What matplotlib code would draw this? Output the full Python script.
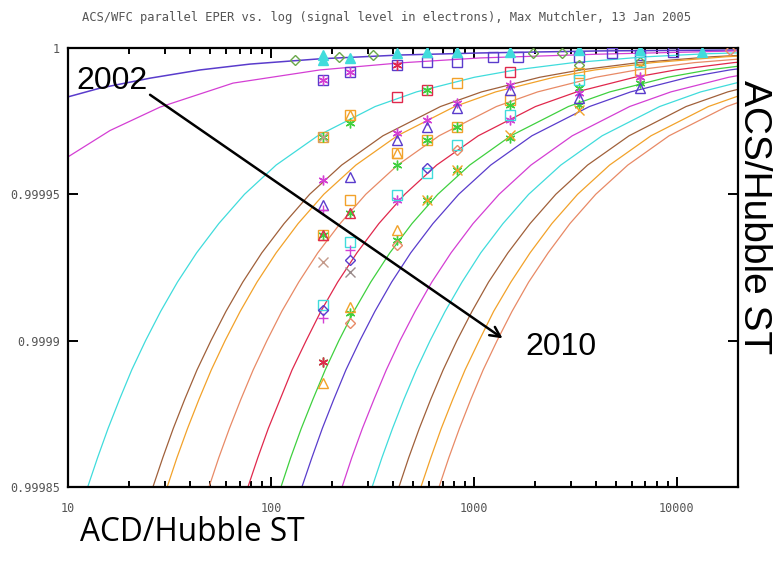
"""ACS/WFC parallel EPER vs. signal level — recreated gnuplot-style chart."""
import matplotlib
matplotlib.use("Agg")
import matplotlib.pyplot as plt
from matplotlib.ticker import LogLocator, NullFormatter, FixedLocator, FixedFormatter

# ── data ─────────────────────────────────────────────────────────────────────
# EPER levels shared by the family of model curves
LEVELS = [0.99985, 0.99986, 0.99987, 0.99988, 0.99989, 0.9999, 0.99991,
          0.99992, 0.99993, 0.99994, 0.99995, 0.99996, 0.99997, 0.99998,
          0.999985, 0.99999, 0.9999925, 0.999995, 0.999997, 0.999998, 0.999999]

# signal level (electrons) at which each curve reaches each level above
CYAN1_X   = [12.5, 13.98, 15.75, 17.95, 20.6, 24.1, 28.6, 34.6, 43.0, 55.3, 74.0,
             106, 170, 326, 521, 1005, 1600, 3090, 7080, 13600, 42300]
BROWN1_X  = [26.2, 29.3, 33.0, 37.6, 43.2, 50.6, 60.0, 72.6, 90.1, 116, 155,
             223, 356, 684, 1090, 2110, 3350, 6470, 14800, 28600, 88600]
ORANGE1_X = [30.8, 34.4, 38.8, 44.2, 50.8, 59.4, 70.5, 85.3, 106, 136, 182,
             262, 419, 804, 1280, 2480, 3940, 7610, 17400, 33600]
SALMON1_X = [49.5, 55.3, 62.4, 71.1, 81.7, 95.5, 113, 137, 170, 219, 293,
             421, 673, 1290, 2060, 3980, 6340, 12200, 28000]
RED_X     = [77, 86.1, 97.0, 111, 127, 149, 176, 213, 265, 340, 456,
             655, 1050, 2010, 3210, 6190, 9860, 19000, 43600]
GREEN_X   = [112, 125, 141, 161, 185, 216, 256, 310, 385, 495, 663,
             953, 1520, 2920, 4670, 9000, 14300, 27700]
BLUE_X    = [142, 159, 179, 204, 234, 274, 325, 393, 488, 628, 841,
             1210, 1930, 3710, 5920, 11400, 18200, 35100]
MAGENTA2_X = [224, 250, 282, 322, 370, 432, 513, 620, 771, 990, 1330,
              1910, 3050, 5850, 9340, 18000, 28700]
CYAN2_X   = [315, 352, 397, 452, 520, 608, 721, 873, 1080, 1390, 1860,
             2680, 4280, 8220, 13100, 25300]
BROWN2_X  = [427, 477, 538, 613, 705, 824, 978, 1180, 1470, 1890, 2530,
             3630, 5810, 11100, 17800, 34300]
ORANGE2_X = [548, 613, 690, 787, 904, 1060, 1250, 1520, 1890, 2420, 3240,
             4660, 7450, 14300, 22900]
SALMON2_X = [673, 752, 848, 966, 1110, 1300, 1540, 1860, 2320, 2970, 3980,
             5730, 9150, 17600, 28100]

# the two top curves
TOP_BLUE_X = [10, 14.4, 25.4, 44.7, 78.8, 174, 431, 1070, 4170, 20000]
TOP_BLUE_Y = [0.9999833, 0.9999863, 0.9999897, 0.9999925, 0.9999945,
              0.9999963, 0.9999976, 0.9999983, 0.999999, 0.9999993]
TOP_MAG_X = [10, 16.1, 28.4, 65, 174, 431, 1070, 4170, 20000]
TOP_MAG_Y = [0.9999628, 0.9999718, 0.9999798, 0.999988, 0.9999925, 0.9999949,
             0.9999966, 0.9999979, 0.999999]

# measured points
sq_purple_x = [180, 245, 420, 586, 824, 1240, 1650, 3300, 4790, 6600, 9550]
sq_purple_y = [0.9999891, 0.9999918, 0.9999942, 0.9999952, 0.9999952, 0.9999969,
               0.9999969, 0.9999969, 0.9999983, 0.9999976, 0.9999986]
tri_cyan_x = [180, 180, 245, 420, 586, 824, 1500, 3300, 6600, 13270]
tri_cyan_y = [0.9999976, 0.9999959, 0.9999966, 0.9999983, 0.9999986, 0.9999986,
              0.9999986, 0.9999993, 0.9999993, 0.9999986]
dia_green_x = [131, 216, 318, 1955, 2715, 3300, 6600]
dia_green_y = [0.9999959, 0.9999969, 0.9999976, 0.9999983, 0.9999983, 0.9999942, 0.9999952]
sq_orange_x = [180, 180, 245, 245, 420, 586, 824, 824, 1500, 3300, 6600]
sq_orange_y = [0.9999696, 0.9999361, 0.9999771, 0.999948, 0.9999641, 0.9999686,
               0.999973, 0.999988, 0.9999822, 0.9999915, 0.9999925]
sq_red_x = [420, 586, 1500]
sq_red_y = [0.9999833, 0.9999856, 0.9999918]
ast_green_x = [180, 180, 180, 245, 245, 245, 420, 420, 586, 586, 586, 824, 824,
               1500, 1500, 3300, 3300, 6600]
ast_green_y = [0.9999696, 0.9999361, 0.9998927, 0.9999744, 0.9999436, 0.9999095,
               0.99996, 0.9999344, 0.9999856, 0.9999686, 0.999948, 0.999973,
               0.9999583, 0.9999805, 0.9999692, 0.9999863, 0.9999805, 0.999988]
ast_mag_x = [180, 180, 245, 420, 420, 586, 824, 1500, 1500, 3300, 6600]
ast_mag_y = [0.9999891, 0.9999549, 0.9999918, 0.999971, 0.999948, 0.9999754,
             0.9999812, 0.9999874, 0.9999754, 0.9999846, 0.9999901]
ast_red_x = [180, 420]
ast_red_y = [0.9998927, 0.9999942]
tri_blue_x = [180, 245, 420, 586, 824, 1500, 3300, 6600]
tri_blue_y = [0.9999464, 0.9999559, 0.9999686, 0.999973, 0.9999795, 0.9999856,
              0.9999829, 0.9999863]
tri_red_x = [180, 245]
tri_red_y = [0.9999361, 0.9999436]
tri_orange_x = [180, 245, 245, 420, 420]
tri_orange_y = [0.9998855, 0.9999771, 0.9999115, 0.9999378, 0.9999641]
x_salmon_x = [180, 180]
x_salmon_y = [0.9999696, 0.9999269]
x_brown_x = [245]
x_brown_y = [0.9999235]
x_orange_x = [586, 824, 1500, 3300]
x_orange_y = [0.999948, 0.9999583, 0.9999703, 0.9999788]
sq_cyan_x = [180, 245, 420, 586, 824, 1500, 3300, 6600]
sq_cyan_y = [0.9999122, 0.9999337, 0.9999498, 0.9999573, 0.9999669, 0.9999771,
             0.9999891, 0.9999952]
plus_mag_x = [180, 180, 245]
plus_mag_y = [0.9999077, 0.9999446, 0.999931]
dia_purple_x = [180, 245, 586]
dia_purple_y = [0.9999105, 0.9999276, 0.999959]
dia_salmon_x = [245, 420, 824, 18240]
dia_salmon_y = [0.999906, 0.9999327, 0.9999651, 0.9999993]

X_TICKS = [10, 100, 1000, 10000]
Y_TICKS = [0.99985, 0.9999, 0.99995, 1.0]
Y_TICK_LABELS = ["0.99985", "0.9999", "0.99995", "1"]

# ── palette ──────────────────────────────────────────────────────────────────
BLUE    = "#5a3ccc"
MAGENTA = "#d43fd4"
CYAN    = "#40dcdc"
BROWN   = "#a0603a"
ORANGE  = "#f2a22a"
SALMON  = "#e88a66"
RED     = "#e0284c"
GREEN   = "#3fd03f"
OLIVE   = "#6aa84a"
GREYX   = "#c49a8a"
TXT     = "#555555"

# ── figure ───────────────────────────────────────────────────────────────────
fig = plt.figure(figsize=(7.74, 5.62), dpi=100, facecolor="white")
ax = fig.add_axes([0.0879, 0.1335, 0.8656, 0.7811])

curves = [
    (CYAN1_X, CYAN), (BROWN1_X, BROWN), (ORANGE1_X, ORANGE), (SALMON1_X, SALMON),
    (RED_X, RED), (GREEN_X, GREEN), (BLUE_X, BLUE), (MAGENTA2_X, MAGENTA),
    (CYAN2_X, CYAN), (BROWN2_X, BROWN), (ORANGE2_X, ORANGE), (SALMON2_X, SALMON),
]
for xs, c in curves:
    ax.plot(xs, LEVELS[:len(xs)], color=c, lw=0.9, zorder=2)
ax.plot(TOP_BLUE_X, TOP_BLUE_Y, color=BLUE, lw=1.1, zorder=2)
ax.plot(TOP_MAG_X, TOP_MAG_Y, color=MAGENTA, lw=0.9, zorder=2)

ASTER = (6, 2, 0)
points = [
    (sq_purple_x, sq_purple_y, "s", BLUE, False),
    (tri_cyan_x, tri_cyan_y, "^", CYAN, True),
    (dia_green_x, dia_green_y, "D", OLIVE, False),
    (sq_orange_x, sq_orange_y, "s", ORANGE, False),
    (sq_red_x, sq_red_y, "s", RED, False),
    (ast_green_x, ast_green_y, ASTER, GREEN, False),
    (ast_mag_x, ast_mag_y, ASTER, MAGENTA, False),
    (ast_red_x, ast_red_y, ASTER, RED, False),
    (tri_blue_x, tri_blue_y, "^", BLUE, False),
    (tri_red_x, tri_red_y, "^", RED, False),
    (tri_orange_x, tri_orange_y, "^", ORANGE, False),
    (x_salmon_x, x_salmon_y, "x", GREYX, False),
    (x_brown_x, x_brown_y, "x", "#9a8a8a", False),
    (x_orange_x, x_orange_y, "x", ORANGE, False),
    (sq_cyan_x, sq_cyan_y, "s", CYAN, False),
    (plus_mag_x, plus_mag_y, "+", MAGENTA, False),
    (dia_purple_x, dia_purple_y, "D", BLUE, False),
    (dia_salmon_x, dia_salmon_y, "D", SALMON, False),
]
for xs, ys, m, c, filled in points:
    if filled:
        ax.plot(xs, ys, ls="none", marker=m, ms=7, color=c, mec=c, zorder=3)
    else:
        ax.plot(xs, ys, ls="none", marker=m, ms=7 if m != "D" else 5.5,
                mfc="none", mec=c, mew=1.0, zorder=3)

ax.set_xscale("log")
ax.set_xlim(10, 20000)
ax.set_ylim(0.99985, 1.0)

for spine in ax.spines.values():
    spine.set_linewidth(1.6)
    spine.set_color("black")

ax.xaxis.set_major_locator(FixedLocator(X_TICKS))
ax.xaxis.set_major_formatter(FixedFormatter([str(v) for v in X_TICKS]))
ax.xaxis.set_minor_locator(LogLocator(base=10, subs=range(2, 10)))
ax.xaxis.set_minor_formatter(NullFormatter())
ax.yaxis.set_major_locator(FixedLocator(Y_TICKS))
ax.yaxis.set_major_formatter(FixedFormatter(Y_TICK_LABELS))

ax.tick_params(which="both", direction="in", top=True, right=True,
               color="black", width=1.4)
ax.tick_params(which="major", length=7)
ax.tick_params(which="minor", length=4)
ax.tick_params(axis="x", which="major", pad=11, labelsize=8.5, labelcolor=TXT)
ax.tick_params(axis="y", which="major", pad=6, labelsize=8.5, labelcolor=TXT)
for lab in ax.get_xticklabels() + ax.get_yticklabels():
    lab.set_family("DejaVu Sans Mono")

fig.text(0.5, 0.968,
         "ACS/WFC parallel EPER vs. log (signal level in electrons), Max Mutchler, 13 Jan 2005",
         ha="center", va="center", fontsize=8.7, color=TXT, family="DejaVu Sans Mono")

# year arrow
ax.annotate("", xy=(0.652, 0.335), xytext=(0.119, 0.897), xycoords="axes fraction",
            arrowprops=dict(arrowstyle="->", color="black", lw=1.8,
                            mutation_scale=18), zorder=5)
ax.text(0.013, 0.925, "2002", transform=ax.transAxes, fontsize=23,
        family="Liberation Sans", va="center", ha="left", zorder=6)
ax.text(0.683, 0.318, "2010", transform=ax.transAxes, fontsize=23,
        family="Liberation Sans", va="center", ha="left", zorder=6)

fig.text(0.974, 0.614, "ACS/Hubble ST", rotation=-90, fontsize=28,
         family="Liberation Sans", ha="center", va="center")
fig.text(0.103, 0.053, "ACD/Hubble ST", fontsize=22.8, family="Open Sans",
         ha="left", va="center")

fig.savefig("out.png", dpi=100, facecolor="white")
